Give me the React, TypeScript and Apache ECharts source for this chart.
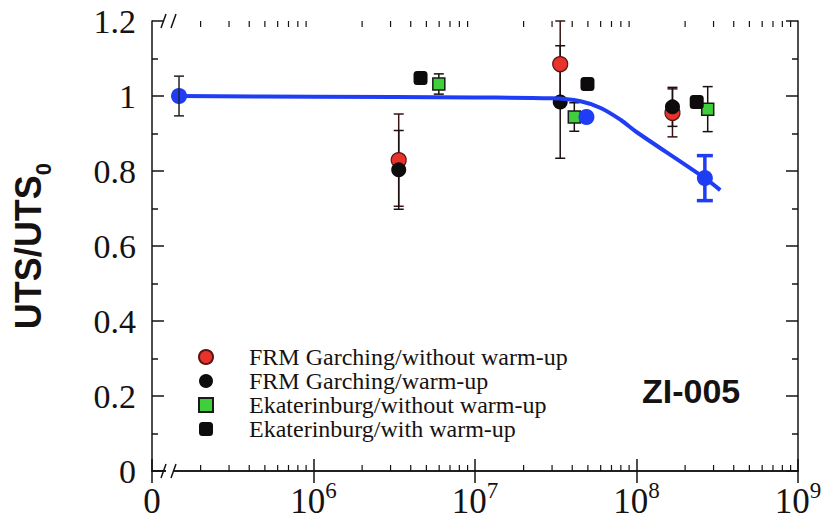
import React, { useEffect, useRef } from 'react';
import * as echarts from 'echarts';

// ---- data ----
const seriesNames = [
  'FRM Garching/without warm-up',
  'FRM Garching/warm-up',
  'Ekaterinburg/without warm-up',
  'Ekaterinburg/with warm-up',
];

const redX = [3.37e6, 3.37e7, 1.67e8];
const redY = [0.829, 1.085, 0.955];
const redErr = [0.123, 0.115, 0.064];

const blackX = [3.37e6, 3.37e7, 1.67e8];
const blackY = [0.803, 0.984, 0.971];
const blackErr = [0.105, 0.15, 0.052];

const greenX = [5.97e6, 4.12e7, 2.76e8];
const greenY = [1.032, 0.944, 0.965];
const greenErr = [0.027, 0.038, 0.06];

const blackSqX = [4.6e6, 4.97e7, 2.36e8];
const blackSqY = [1.048, 1.032, 0.984];

const blueX = [1.47e5, 4.9e7, 2.65e8];
const blueY = [1.0, 0.944, 0.781];
const blueErr = [0.053, 0, 0.06];
const blueErrColor = ['#222222', '#1f3df5', '#1f3df5'];
const blueErrWidth = [1.5, 3.5, 3.5];
const blueCapHalf = [5, 8, 8];

const fitX = [1.47e5, 1e6, 1e7, 3e7, 4.5e7, 6e7, 8e7, 1e8, 2.65e8, 3.3e8];
const fitY = [1.0, 0.998, 0.996, 0.994, 0.986, 0.968, 0.936, 0.904, 0.781, 0.749];

const yTickLabels = ['0', '0.2', '0.4', '0.6', '0.8', '1', '1.2'];
const xDecades = [5, 6, 7, 8, 9];
const xMinorMultipliers = [2, 3, 4, 5, 6, 7, 8, 9];

const X_MIN = 1e5;
const X_MAX = 1e9;
const Y_MIN = 0;
const Y_MAX = 1.2;

const INK = '#161212';
const SERIF = '"Liberation Serif", "Times New Roman", serif';
const SANS = '"Liberation Sans", Arial, sans-serif';

function errData(xs: number[], ys: number[], es: number[]) {
  return xs
    .map((x, i) => [x, ys[i] - es[i], ys[i] + es[i], i])
    .filter((d, i) => es[i] > 0);
}

function errSeries(data: number[][], colorOf: (i: number) => string, widthOf: (i: number) => number, capOf: (i: number) => number, z: number) {
  return {
    type: 'custom',
    silent: true,
    z,
    clip: false,
    data,
    encode: { x: 0, y: [1, 2] },
    renderItem: (params: any, api: any) => {
      const idx = api.value(3);
      const lo = api.coord([api.value(0), api.value(1)]);
      const hi = api.coord([api.value(0), api.value(2)]);
      const stroke = colorOf(idx);
      const lw = widthOf(idx);
      const c = capOf(idx);
      const st = { stroke, lineWidth: lw };
      return {
        type: 'group',
        children: [
          { type: 'line', shape: { x1: lo[0], y1: lo[1], x2: hi[0], y2: hi[1] }, style: st },
          { type: 'line', shape: { x1: lo[0] - c, y1: lo[1], x2: lo[0] + c, y2: lo[1] }, style: st },
          { type: 'line', shape: { x1: hi[0] - c, y1: hi[1], x2: hi[0] + c, y2: hi[1] }, style: st },
        ],
      };
    },
  };
}

export default function App() {
  const ref = useRef<HTMLDivElement>(null);

  useEffect(() => {
    document.body.style.margin = '0';
    if (!ref.current) return;
    const chart = echarts.init(ref.current, null, { renderer: 'svg' });

    const minorTicks: number[][] = [];
    xDecades.slice(0, -1).forEach((d) => {
      xMinorMultipliers.forEach((m) => minorTicks.push([m * Math.pow(10, d), 0]));
    });

    const axisLineStyle = { color: INK, width: 1.5 };

    const option: any = {
      animation: false,
      backgroundColor: '#ffffff',
      grid: { left: 152, right: 27, top: 21, bottom: 52, outerBoundsMode: 'none' },
      legend: {
        data: seriesNames,
        orient: 'vertical',
        left: 193,
        top: 340,
        itemWidth: 14,
        itemHeight: 14,
        itemGap: 0,
        selectedMode: false,
        textStyle: {
          fontFamily: SERIF,
          fontSize: 24,
          lineHeight: 24,
          color: INK,
          padding: [0, 0, 0, 31],
        },
      },
      xAxis: [
        {
          type: 'log',
          logBase: 10,
          min: X_MIN,
          max: X_MAX,
          position: 'bottom',
          axisLine: { show: true, lineStyle: axisLineStyle },
          axisTick: { show: true, inside: true, length: 12, lineStyle: axisLineStyle },
          splitLine: { show: false },
          axisLabel: {
            margin: 8,
            formatter: (v: number) => {
              const e = Math.round(Math.log10(v));
              if (e === xDecades[0]) return '{n|0}';
              return '{n|10}{s|' + e + '}';
            },
            rich: {
              n: { fontFamily: SERIF, fontSize: 35, color: INK, lineHeight: 40, verticalAlign: 'bottom' },
              s: { fontFamily: SERIF, fontSize: 23, color: INK, verticalAlign: 'top' },
            },
          },
        },
        {
          type: 'log',
          logBase: 10,
          min: X_MIN,
          max: X_MAX,
          position: 'top',
          axisLine: { show: true, lineStyle: axisLineStyle },
          axisTick: { show: true, inside: true, length: 12, lineStyle: axisLineStyle },
          splitLine: { show: false },
          axisLabel: { show: false },
        },
      ],
      yAxis: [
        {
          type: 'value',
          min: Y_MIN,
          max: Y_MAX,
          interval: 0.2,
          position: 'left',
          axisLine: { show: true, lineStyle: axisLineStyle },
          axisTick: { show: true, inside: true, length: 12, lineStyle: axisLineStyle },
          minorTick: { show: true, splitNumber: 2, length: 6, lineStyle: axisLineStyle },
          splitLine: { show: false },
          axisLabel: {
            margin: 16,
            fontFamily: SERIF,
            fontSize: 34,
            color: INK,
            formatter: (v: number) => yTickLabels[Math.round(v / 0.2)],
          },
          name: '{a|UTS/UTS}{b|0}',
          nameLocation: 'middle',
          nameRotate: 90,
          nameGap: 98,
          nameTextStyle: {
            rich: {
              a: { fontFamily: SANS, fontWeight: 'bold', fontSize: 36, color: INK, lineHeight: 44, verticalAlign: 'top' },
              b: { fontFamily: SANS, fontWeight: 'bold', fontSize: 22, color: INK, verticalAlign: 'bottom' },
            },
          },
        },
        {
          type: 'value',
          min: Y_MIN,
          max: Y_MAX,
          interval: 0.2,
          position: 'right',
          axisLine: { show: true, lineStyle: axisLineStyle },
          axisTick: { show: true, inside: true, length: 12, lineStyle: axisLineStyle },
          minorTick: { show: true, splitNumber: 2, length: 6, lineStyle: axisLineStyle },
          splitLine: { show: false },
          axisLabel: { show: false },
        },
      ],
      graphic: [
        // axis break marks (bottom)
        { type: 'rect', shape: { x: 166, y: 465, width: 8, height: 12 }, style: { fill: '#ffffff' }, z: 100 },
        { type: 'line', shape: { x1: 161, y1: 478, x2: 166, y2: 464 }, style: { stroke: INK, lineWidth: 1.5 }, z: 101 },
        { type: 'line', shape: { x1: 171, y1: 478, x2: 176, y2: 464 }, style: { stroke: INK, lineWidth: 1.5 }, z: 101 },
        // axis break marks (top)
        { type: 'rect', shape: { x: 166, y: 15, width: 8, height: 12 }, style: { fill: '#ffffff' }, z: 100 },
        { type: 'line', shape: { x1: 161, y1: 28, x2: 166, y2: 14 }, style: { stroke: INK, lineWidth: 1.5 }, z: 101 },
        { type: 'line', shape: { x1: 171, y1: 28, x2: 176, y2: 14 }, style: { stroke: INK, lineWidth: 1.5 }, z: 101 },
        {
          type: 'text',
          left: 642,
          top: 374,
          style: { text: 'ZI-005', font: 'bold 34px "Liberation Sans", Arial, sans-serif', fill: INK },
          z: 100,
        },
      ],
      series: [
        // log minor ticks on bottom and top axes
        {
          type: 'custom',
          silent: true,
          z: 1,
          clip: false,
          data: minorTicks,
          encode: { x: 0, y: 1 },
          renderItem: (params: any, api: any) => {
            const b = api.coord([api.value(0), Y_MIN]);
            const t = api.coord([api.value(0), Y_MAX]);
            const st = { stroke: INK, lineWidth: 1.2 };
            return {
              type: 'group',
              children: [
                { type: 'line', shape: { x1: b[0], y1: b[1], x2: b[0], y2: b[1] - 6 }, style: st },
                { type: 'line', shape: { x1: t[0], y1: t[1], x2: t[0], y2: t[1] + 6 }, style: st },
              ],
            };
          },
        },
        errSeries(errData(redX, redY, redErr), () => '#3a1414', () => 1.5, () => 5, 2),
        errSeries(errData(blackX, blackY, blackErr), () => '#1a1010', () => 1.5, () => 5, 2),
        errSeries(errData(greenX, greenY, greenErr), () => '#1a1010', () => 1.5, () => 5, 2),
        errSeries(
          errData(blueX, blueY, blueErr),
          (i) => blueErrColor[i],
          (i) => blueErrWidth[i],
          (i) => blueCapHalf[i],
          6
        ),
        {
          name: seriesNames[0],
          type: 'scatter',
          z: 3,
          symbol: 'circle',
          symbolSize: 15,
          itemStyle: { color: '#e8322c', borderColor: '#5a1414', borderWidth: 1.2, opacity: 1 },
          data: redX.map((x, i) => [x, redY[i]]),
        },
        {
          name: seriesNames[1],
          type: 'scatter',
          z: 3,
          symbol: 'circle',
          symbolSize: 15,
          itemStyle: { color: '#0d0b0b', opacity: 1 },
          data: blackX.map((x, i) => [x, blackY[i]]),
        },
        {
          name: seriesNames[2],
          type: 'scatter',
          z: 3,
          symbol: 'rect',
          symbolSize: 12,
          itemStyle: { color: '#3fcf3a', borderColor: '#1a1a1a', borderWidth: 1.5, opacity: 1 },
          data: greenX.map((x, i) => [x, greenY[i]]),
        },
        {
          name: seriesNames[3],
          type: 'scatter',
          z: 3,
          symbol: 'roundRect',
          symbolSize: 14,
          itemStyle: { color: '#0d0b0b', opacity: 1 },
          data: blackSqX.map((x, i) => [x, blackSqY[i]]),
        },
        {
          type: 'line',
          z: 4,
          smooth: 0.35,
          showSymbol: false,
          symbol: 'none',
          silent: true,
          lineStyle: { color: '#1f3df5', width: 4 },
          data: fitX.map((x, i) => [x, fitY[i]]),
        },
        {
          type: 'scatter',
          z: 5,
          symbol: 'circle',
          symbolSize: 16,
          silent: true,
          itemStyle: { color: '#1f3df5', opacity: 1 },
          data: blueX.map((x, i) => [x, blueY[i]]),
        },
      ],
    };

    chart.setOption(option);
    return () => chart.dispose();
  }, []);

  return <div ref={ref} style={{ width: 825, height: 523 }} />;
}
